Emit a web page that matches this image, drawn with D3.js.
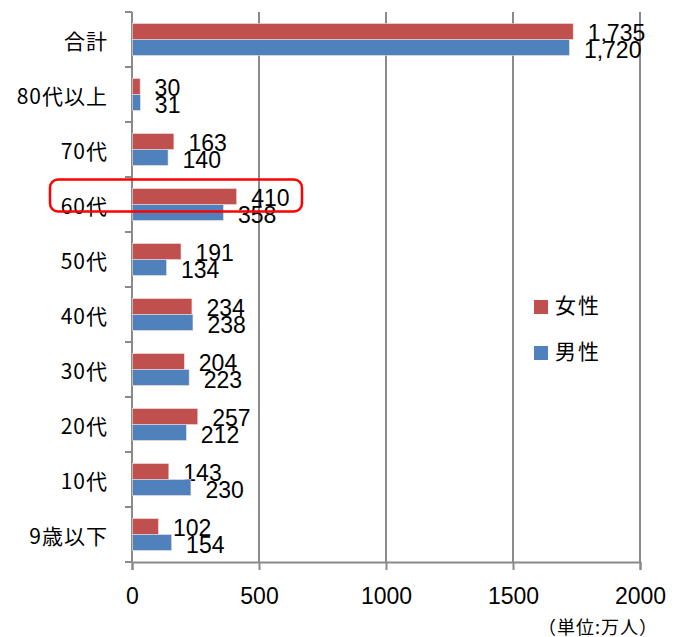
<!DOCTYPE html>
<html>
<head>
<meta charset="utf-8">
<script src="https://cdn.jsdelivr.net/npm/d3@7"></script>
<style>
  body{margin:0;background:#fff}
  text{font-family:"Liberation Sans","Noto Sans CJK JP",sans-serif;fill:#000}
</style>
</head>
<body>
<div id="Chart"></div>
<script>
// data (unit: 万人)
const categories=["合計","80代以上","70代","60代","50代","40代","30代","20代","10代","9歳以下"]
const female=[1735,30,163,410,191,234,204,257,143,102]
const male=[1720,31,140,358,134,238,223,212,230,154]
const xTicks=[0,500,1000,1500,2000]
const seriesNames=["女性","男性"]
const highlight="60代"

const Width=680,Height=637
const margin={top:12,right:40,bottom:75,left:132}
const width=Width-margin.left-margin.right,
      height=Height-margin.top-margin.bottom
const red="#C0504D",blue="#4F81BD",grid="#8a8a8a"

var svg=d3.select("#Chart").append("svg")
    .attr("width",Width).attr("height",Height)
  .append("g")
    .attr("transform",`translate(${margin.left},${margin.top})`)

var X=d3.scaleLinear().domain([0,2000]).range([0,width])
var Y=d3.scaleBand().domain(categories).range([0,height]).paddingInner(0.42).paddingOuter(0.21)
var sub=d3.scaleBand().domain(seriesNames).range([0,Y.bandwidth()])

// vertical gridlines
svg.append("g").selectAll("line").data(xTicks.slice(1)).enter().append("line")
  .attr("x1",d=>X(d)).attr("x2",d=>X(d)).attr("y1",0).attr("y2",height)
  .attr("stroke",grid).attr("stroke-width",2)

// x axis
var xAxis=svg.append("g").attr("transform",`translate(0,${height})`)
  .call(d3.axisBottom(X).tickValues(xTicks).tickSize(8).tickPadding(18).tickFormat(d3.format("d")))
xAxis.select(".domain").attr("stroke",grid).attr("stroke-width",2)
xAxis.selectAll(".tick line").attr("stroke",grid).attr("stroke-width",2)
xAxis.selectAll("text").style("font-size","23px").attr("font-family",null)

// y axis with ticks at band boundaries
svg.append("line").attr("x1",0).attr("x2",0).attr("y1",0).attr("y2",height)
  .attr("stroke",grid).attr("stroke-width",2)
svg.append("g").selectAll("line").data(d3.range(categories.length+1)).enter().append("line")
  .attr("x1",-7).attr("x2",0).attr("y1",d=>d*height/categories.length).attr("y2",d=>d*height/categories.length)
  .attr("stroke",grid).attr("stroke-width",2)
svg.append("g").selectAll("text").data(categories).enter().append("text")
  .attr("x",-24).attr("y",d=>Y(d)+Y.bandwidth()/2)
  .attr("text-anchor","end").attr("dominant-baseline","central")
  .style("font-size","21px").style("letter-spacing","1px")
  .style("font-family","'Noto Sans CJK JP',sans-serif")
  .text(d=>d)

// bars
var rows=categories.map((c,i)=>({c,f:female[i],m:male[i]}))
var series=[{name:"女性",key:"f",color:red,dy:1},{name:"男性",key:"m",color:blue,dy:3}]
series.forEach(s=>{
  svg.append("g").selectAll("rect").data(rows).enter().append("rect")
    .attr("x",0.5)
    .attr("y",d=>Y(d.c)+sub(s.name))
    .attr("width",d=>X(d[s.key]))
    .attr("height",sub.bandwidth())
    .attr("fill",s.color)
    .attr("stroke","#f2dcdb").attr("stroke-width",0.6)
  svg.append("g").selectAll("text").data(rows).enter().append("text")
    .attr("x",d=>X(d[s.key])+15)
    .attr("y",d=>Y(d.c)+sub(s.name)+sub.bandwidth()/2+s.dy)
    .attr("dominant-baseline","central")
    .style("font-size","23px")
    .text(d=>d3.format(",")(d[s.key]))
})

// highlight box around 60代
svg.append("rect")
  .attr("x",-82).attr("y",Y(highlight)-Y.bandwidth()*0.28)
  .attr("width",252).attr("height",Y.bandwidth()*1.0)
  .attr("rx",8).attr("fill","none").attr("stroke","#ff0000").attr("stroke-width",2.5)

// legend
var legend=svg.append("g").attr("transform",`translate(${534-margin.left},${300-margin.top})`)
series.forEach((s,i)=>{
  legend.append("rect").attr("x",0).attr("y",i*46).attr("width",14).attr("height",14).attr("fill",s.color)
  legend.append("text").attr("x",21).attr("y",i*46+4).attr("dominant-baseline","central")
    .style("font-size","21px").style("letter-spacing","2px")
    .style("font-family","'Noto Sans CJK JP',sans-serif").text(s.name)
})

// unit
svg.append("text").attr("x",658-margin.left).attr("y",height+64).attr("text-anchor","end")
  .attr("dominant-baseline","central")
  .style("font-size","18px").style("letter-spacing","1px").style("font-family","'Noto Sans CJK JP',sans-serif")
  .text("（単位:万人）")
</script>
</body>
</html>
